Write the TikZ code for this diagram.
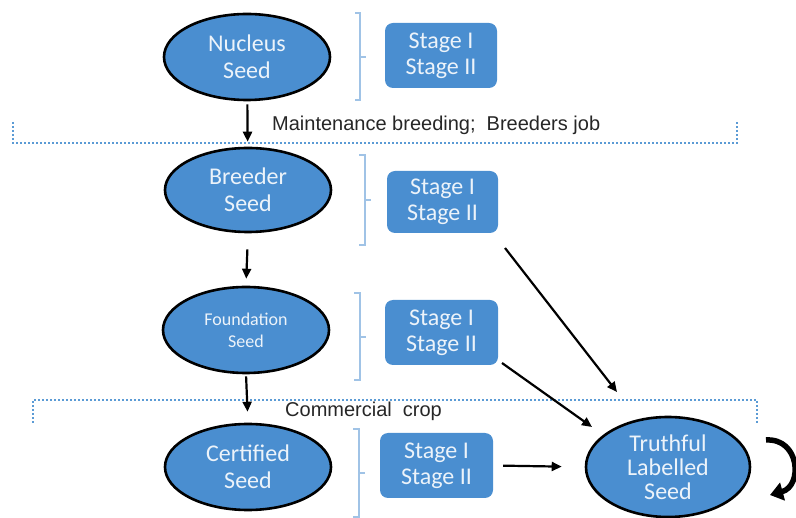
\documentclass[tikz,border=0pt]{standalone}
\usepackage{fontspec}
\setmainfont{Carlito}
\newfontfamily\labelfont{Liberation Sans}
\usetikzlibrary{shapes.geometric,arrows.meta}
\definecolor{seedblue}{RGB}{74,142,208}
\definecolor{seedtext}{RGB}{236,243,250}
\definecolor{bracecol}{RGB}{160,195,230}
\definecolor{dotcol}{RGB}{91,155,213}
\tikzset{
  seed/.style={ellipse, draw=black, line width=2.6pt, fill=seedblue, text=seedtext,
    minimum width=166pt, minimum height=86pt, inner sep=0pt, align=center,
    font=\fontsize{24}{27}\selectfont},
  stagebox/.style={rectangle, rounded corners=8pt, fill=seedblue, text=seedtext,
    inner sep=0pt, align=center, font=\fontsize{24}{26}\selectfont},
  brace/.style={draw=bracecol, line width=1.4pt},
  sep/.style={draw=dotcol, line width=2pt, dotted},
  arr/.style={draw=black, line width=2.2pt, -{Triangle[length=10pt,width=9pt]}},
  lbl/.style={font=\labelfont\fontsize{20}{24}\selectfont, text=black!85, anchor=west, inner sep=0pt},
}
\begin{document}
\begin{tikzpicture}[x=1pt,y=-1pt]
\useasboundingbox (0,0) rectangle (796,518);

% ellipses
\node[seed] (N) at (247,57) {Nucleus\\Seed};
\node[seed, minimum height=84pt] (B) at (248,190) {Breeder\\Seed};
\node[seed, font=\fontsize{18}{22}\selectfont] (F) at (246,330) {Foundation\\Seed};
\node[seed] (C) at (248,467) {Certified\\Seed};
\node[seed, minimum width=164pt, minimum height=100pt, font=\fontsize{24}{24}\selectfont] (T) at (668,467) {Truthful\\Labelled\\Seed};

% stage boxes
\node[stagebox, minimum width=112pt, minimum height=65pt] (S1) at (441,55.5) {Stage I\\Stage II};
\node[stagebox, minimum width=111pt, minimum height=62pt] (S2) at (442.5,202) {Stage I\\Stage II};
\node[stagebox, minimum width=113pt, minimum height=65pt] (S3) at (441.5,332.5) {Stage I\\Stage II};
\node[stagebox, minimum width=113pt, minimum height=65pt] (S4) at (436.5,465.5) {Stage I\\Stage II};

% braces
\draw[brace] (355,13) -- (360,13) -- (360,100) -- (355,100) (360,57) -- (366,57);
\draw[brace] (359,155) -- (365,155) -- (365,245) -- (359,245) (365,200) -- (371,200);
\draw[brace] (354,293) -- (360,293) -- (360,380) -- (354,380) (360,337) -- (366,337);
\draw[brace] (353,429) -- (359,429) -- (359,517) -- (353,517) (359,473) -- (365,473);

% separators
\draw[sep] (13,122) -- (13,143) -- (737,143) -- (737,122);
\draw[sep] (33,423) -- (33,400) -- (757,400) -- (757,423);

% labels
\node[lbl] (L1) at (272,125) {Maintenance breeding;\ \ Breeders job};
\node[lbl] (L2) at (285,411) {Commercial\ \ crop};

% vertical arrows
\draw[arr, shorten <=3pt, shorten >=5pt] (N) -- (B);
\draw[arr, shorten <=16pt, shorten >=7pt] (B.south) -- (F.north);
\draw[arr, shorten <=2pt, shorten >=11pt] (F.south) -- (C.north);

% arrows to truthful labelled seed
\coordinate (a2s) at (505,248);
\coordinate (a2e) at (617,392);
\coordinate (a3s) at (502,363);
\coordinate (a3e) at (592,427);
\draw[arr] (a2s) -- (a2e);
\draw[arr] (a3s) -- (a3e);
\draw[arr, shorten <=10pt, shorten >=23pt] (S4.east) -- (T.west);

% self loop
\coordinate (ls) at (766,440);
\coordinate (le) at (770,495);
\draw[line width=5.5pt, -{Triangle[length=13pt,width=18pt]}] (ls) .. controls (800,438) and (803,486) .. (le);
\end{tikzpicture}
\end{document}
